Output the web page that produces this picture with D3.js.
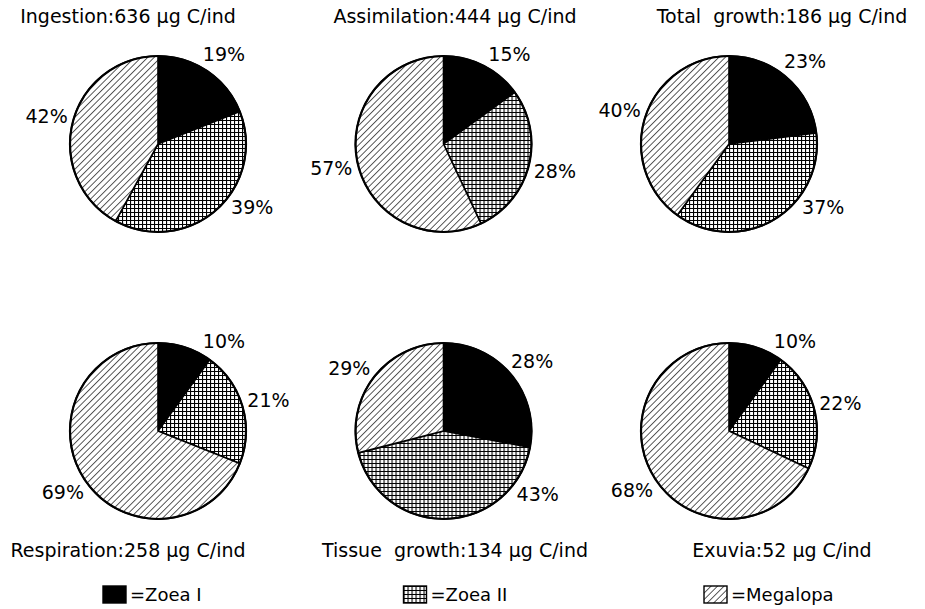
<!DOCTYPE html>
<html>
<head>
<meta charset="utf-8">
<script src="https://cdn.jsdelivr.net/npm/d3@7"></script>
<style>
  body { margin: 0; background: #fff; }
  svg text { font-family: "DejaVu Sans", sans-serif; fill: #000; }
</style>
</head>
<body>
<svg id="chart" width="925" height="609"></svg>
<script>
// budget per compartment (μg C/ind) and share of each larval stage (%)
var titles = [
  "Ingestion:636 μg C/ind", "Assimilation:444 μg C/ind", "Total  growth:186 μg C/ind",
  "Respiration:258 μg C/ind", "Tissue  growth:134 μg C/ind", "Exuvia:52 μg C/ind"
]
var stages = ["Zoea I", "Zoea II", "Megalopa"]
var zoeaI    = [19, 15, 23, 10, 28, 10]
var zoeaII   = [39, 28, 37, 21, 43, 22]
var megalopa = [42, 57, 40, 69, 29, 68]

var svg = d3.select('#chart')
var defs = svg.append('defs')

// grid pattern for Zoea II
var grid = defs.append('pattern')
    .attr('id', 'grid')
    .attr('patternUnits', 'userSpaceOnUse')
    .attr('width', 4).attr('height', 4)
grid.append('rect').attr('width', 4).attr('height', 4).attr('fill', '#fff')
grid.append('path').attr('d', 'M0,0.5H4M0.5,0V4')
    .attr('stroke', '#000').attr('stroke-width', 1.2)

// diagonal hatch for Megalopa
var hatch = defs.append('pattern')
    .attr('id', 'hatch')
    .attr('patternUnits', 'userSpaceOnUse')
    .attr('width', 4.6).attr('height', 4.6)
    .attr('patternTransform', 'rotate(45)')
hatch.append('rect').attr('width', 4.6).attr('height', 4.6).attr('fill', '#fff')
hatch.append('line').attr('x1', 0).attr('y1', 0).attr('x2', 0).attr('y2', 4.6)
    .attr('stroke', '#000').attr('stroke-width', 1.3)

var fill = d3.scaleOrdinal()
    .domain(stages)
    .range(['#000', 'url(#grid)', 'url(#hatch)'])

var radius = 88
var col = d3.scalePoint().domain([0, 1, 2]).range([158, 729])
var row = d3.scalePoint().domain([0, 1]).range([144, 431])
var titleX = d3.scalePoint().domain([0, 1, 2]).range([128, 782])

var pie = d3.pie().sort(null).value(function(d) { return d.value })
var arc = d3.arc().innerRadius(0).outerRadius(radius)

// keep labels off the top and bottom of the pie, where the titles sit
function labelAngle(d) {
  var a = (d.startAngle + d.endAngle) / 2 * 180 / Math.PI
  if (a < 180) a = Math.max(35, Math.min(125, a))
  else a = Math.max(235, Math.min(305, a))
  return a * Math.PI / 180
}

titles.forEach(function(title, i) {
  var c = i % 3, r = Math.floor(i / 3)
  var data = [
    { stage: stages[0], value: zoeaI[i] },
    { stage: stages[1], value: zoeaII[i] },
    { stage: stages[2], value: megalopa[i] }
  ]

  var g = svg.append('g')
      .attr('transform', 'translate(' + col(c) + ',' + row(r) + ')')

  var arcs = pie(data)

  g.selectAll('path')
    .data(arcs)
    .enter().append('path')
      .attr('d', arc)
      .attr('fill', function(d) { return fill(d.data.stage) })
      .attr('stroke', '#000')
      .attr('stroke-width', 1.6)
      .attr('stroke-linejoin', 'round')

  g.append('circle')
      .attr('r', radius)
      .attr('fill', 'none')
      .attr('stroke', '#000')
      .attr('stroke-width', 2.2)

  // percentage labels just outside each slice
  g.selectAll('text.pct')
    .data(arcs)
    .enter().append('text')
      .attr('class', 'pct')
      .attr('font-size', 19)
      .attr('text-anchor', 'middle')
      .attr('dy', '0.35em')
      .attr('x', function(d) { return Math.sin(labelAngle(d)) * (radius + 27) })
      .attr('y', function(d) { return -Math.cos(labelAngle(d)) * (radius + 22) })
      .text(function(d) { return d.data.value + '%' })

  // compartment title: above the pie on the first row, below on the second
  svg.append('text')
      .attr('x', titleX(c))
      .attr('y', r === 0 ? 23 : 557)
      .attr('text-anchor', 'middle')
      .attr('font-size', 19)
      .attr('xml:space', 'preserve')
      .text(title)
})

// legend
var legendX = d3.scalePoint().domain(stages).range([103, 704])
var legend = svg.selectAll('g.legend')
  .data(stages)
  .enter().append('g')
    .attr('class', 'legend')
    .attr('transform', function(d) { return 'translate(' + legendX(d) + ',586)' })

legend.append('rect')
    .attr('width', 23).attr('height', 17)
    .attr('fill', function(d) { return fill(d) })
    .attr('stroke', '#000')
    .attr('stroke-width', 1.4)

legend.append('text')
    .attr('x', 27)
    .attr('y', 15)
    .attr('font-size', 18)
    .text(function(d) { return '=' + d })
</script>
</body>
</html>
